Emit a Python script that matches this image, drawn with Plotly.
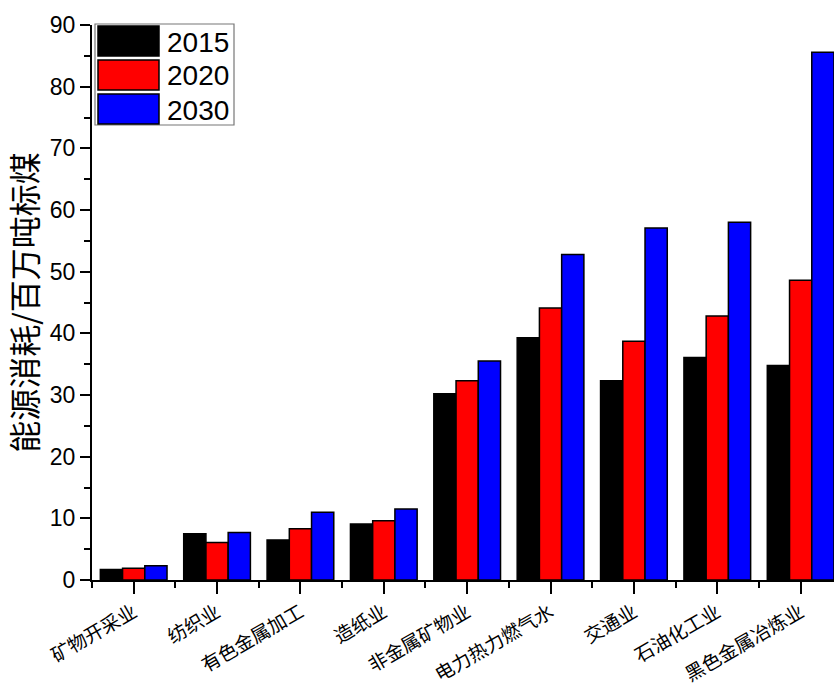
import plotly.graph_objects as go

# Sectors on the x axis
categories = ["矿物开采业", "纺织业", "有色金属加工", "造纸业", "非金属矿物业",
              "电力热力燃气水", "交通业", "石油化工业", "黑色金属冶炼业"]

# Energy consumption by year (million tonnes of standard coal)
values_2015 = [1.7, 7.5, 6.5, 9.1, 30.2, 39.3, 32.3, 36.1, 34.8]
values_2020 = [1.9, 6.1, 8.3, 9.6, 32.3, 44.1, 38.7, 42.8, 48.6]
values_2030 = [2.3, 7.7, 11.0, 11.5, 35.5, 52.8, 57.1, 58.0, 85.6]

series_names = ["2015", "2020", "2030"]
series_values = [values_2015, values_2020, values_2030]
series_colors = ["#000000", "#FF0000", "#0000FF"]

y_ticks = [0, 10, 20, 30, 40, 50, 60, 70, 80, 90]

x_pos = list(range(len(categories)))

fig = go.Figure()
for name, vals, color in zip(series_names, series_values, series_colors):
    fig.add_trace(go.Bar(
        x=x_pos, y=vals, name=name,
        marker=dict(color=color, line=dict(color="black", width=1.5)),
        showlegend=False,
    ))

# Plot area in pixels: left 92, right 834, top 25, bottom 580
L, R, T, B = 92, 834, 25, 580
W, H = R - L, B - T

def px(xp):
    return (xp - L) / W

def py(yp):
    return (B - yp) / H

shapes = []
annotations = []
# Hand-built legend with wide swatches
shapes.append(dict(type="rect", xref="paper", yref="paper",
                   x0=px(95), x1=px(234), y0=py(125), y1=py(24),
                   line=dict(color="#777777", width=1.2), fillcolor="white",
                   layer="above"))
for i, (name, color) in enumerate(zip(series_names, series_colors)):
    top = 26 + i * 34
    shapes.append(dict(type="rect", xref="paper", yref="paper",
                       x0=px(98), x1=px(159), y0=py(top + 30), y1=py(top),
                       line=dict(color="black", width=1.5), fillcolor=color,
                       layer="above"))
    annotations.append(dict(xref="paper", yref="paper", x=px(165), y=py(top + 16),
                            text=name, showarrow=False, xanchor="left",
                            yanchor="middle",
                            font=dict(family="Liberation Sans, Arial", size=28,
                                      color="black")))

fig.update_layout(
    width=834, height=687,
    margin=dict(l=L, r=834 - R, t=T, b=687 - B),
    plot_bgcolor="white", paper_bgcolor="white",
    barmode="group", bargap=0.2, bargroupgap=0,
    shapes=shapes, annotations=annotations,
    showlegend=False,
)

fig.update_xaxes(
    range=[-0.5, len(categories) - 0.6],
    automargin=False,
    tickmode="array", tickvals=x_pos, ticktext=categories,
    tickangle=-30,
    tickfont=dict(family="Noto Sans CJK SC", size=19, color="black"),
    showline=True, linecolor="black", linewidth=2,
    ticks="outside", ticklen=12, tickwidth=2, tickcolor="black",
    minor=dict(tickmode="linear", tick0=0.5, dtick=1, ticks="outside",
               ticklen=6, tickwidth=2, tickcolor="black"),
    showgrid=False, zeroline=False,
)

fig.update_yaxes(
    range=[0, 90],
    automargin=False,
    tickmode="array", tickvals=y_ticks,
    tickfont=dict(family="Liberation Sans, Arial", size=23, color="black"),
    showline=True, linecolor="black", linewidth=2,
    ticks="outside", ticklen=10, tickwidth=2, tickcolor="black",
    minor=dict(tickmode="linear", tick0=0, dtick=5, ticks="outside",
               ticklen=6, tickwidth=2, tickcolor="black"),
    showgrid=False, zeroline=False,
    title=dict(text="能源消耗/百万吨标煤", standoff=6,
               font=dict(family="Noto Sans CJK SC", size=32, color="black")),
)

fig.write_html("out.html")
